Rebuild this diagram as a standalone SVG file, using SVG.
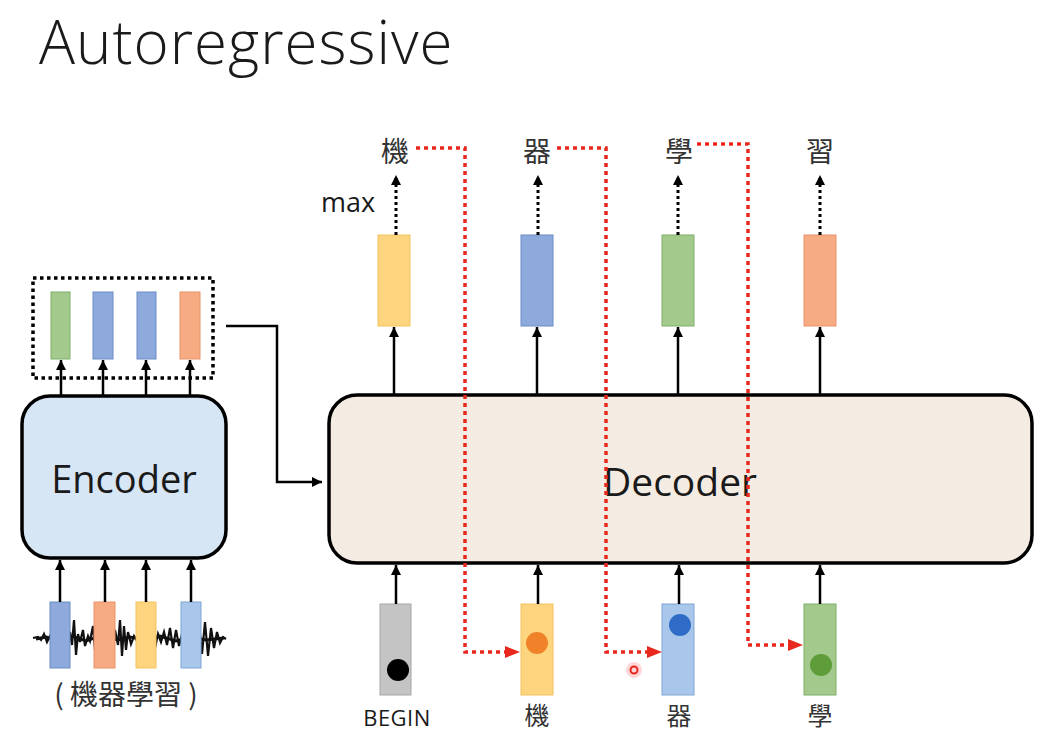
<svg xmlns="http://www.w3.org/2000/svg" width="1063" height="733" viewBox="0 0 1063 733">
<style>
.en{font-family:"Open Sans","Noto Sans",sans-serif;fill:#1a1a1a}
.zh{font-family:"Noto Sans CJK TC",sans-serif;fill:#333}
.ar{stroke:#000;stroke-width:2.5;fill:none;marker-end:url(#ah)}
.dt{stroke:#000;stroke-width:3;stroke-dasharray:3 3;fill:none;marker-end:url(#ah)}
.rd{stroke:#e8281e;stroke-width:3.5;stroke-dasharray:4 4;fill:none}
.g{fill:#a3c98c;stroke:#7fae66;stroke-width:1}
.b{fill:#8eaadc;stroke:#6b8cc6;stroke-width:1}
.o{fill:#f7ab82;stroke:#e8916a;stroke-width:1}
.y{fill:#fdd57e;stroke:#f2c35e;stroke-width:1}
.gr{fill:#c4c4c4;stroke:#a6a6a6;stroke-width:1}
.lb{fill:#a9c7ea;stroke:#7fa5d6;stroke-width:1}
</style>
<defs>
<marker id="ah" markerUnits="userSpaceOnUse" markerWidth="12" markerHeight="12" refX="10" refY="5" orient="auto"><path d="M0,0 L10,5 L0,10 Z" fill="#000"/></marker>
</defs>
<rect width="1063" height="733" fill="#fff"/>
<text class="en" x="39" y="64" font-size="60" font-weight="300" letter-spacing="1">Autoregressive</text>

<g id="waveform">
<path d="M33,638 L38,637 L41,640 L44,634 L47,642 L50,636 L53,641 L56,630 L58,646 L60,625 L62,650 L64,628 L66,648 L70,632 L72,645 L74,620 L76,655 L78,634 L80,642 L83,630 L85,646 L88,636 L90,641 L93,626 L95,650 L98,630 L100,646 L103,628 L106,648 L109,624 L112,652 L115,630 L118,645 L120,620 L122,656 L124,626 L126,650 L128,632 L131,644 L134,636 L137,641 L140,630 L143,646 L146,634 L149,642 L152,628 L155,648 L158,634 L161,642 L164,632 L167,645 L170,628 L173,648 L176,630 L179,646 L182,634 L185,642 L188,630 L190,646 L193,634 L196,642 L199,624 L202,654 L205,622 L208,656 L211,628 L214,648 L217,632 L220,643 L223,637 L226,639" fill="none" stroke="#111" stroke-width="2.2"/>
<path d="M36,639 L46,637 L58,640 L72,636 L86,641 L100,636 L118,640 L130,637 L146,640 L160,636 L176,641 L192,637 L206,640 L224,638" fill="none" stroke="#111" stroke-width="3"/>
</g>

<g id="input-vectors">
<rect class="b" x="50" y="602" width="20" height="66"/>
<rect class="o" x="94" y="602" width="21" height="66"/>
<rect class="y" x="136" y="602" width="20" height="66"/>
<rect class="lb" x="181" y="602" width="20" height="66"/>
</g>
<text class="zh" x="126" y="705" font-size="28" text-anchor="middle">( 機器學習 )</text>

<g id="encoder">
<rect x="22" y="396" width="204" height="162" rx="28" fill="#d7e6f4" stroke="#000" stroke-width="3.5"/>
<text class="en" x="124" y="493" font-size="38" text-anchor="middle">Encoder</text>
</g>

<g id="encoder-output">
<rect x="33" y="278" width="180" height="100" fill="none" stroke="#000" stroke-width="3.5" stroke-dasharray="3.5 3.5"/>
<rect class="g" x="51" y="292" width="19" height="67"/>
<rect class="b" x="93" y="292" width="20" height="67"/>
<rect class="b" x="137" y="292" width="19" height="67"/>
<rect class="o" x="180" y="292" width="20" height="67"/>
</g>

<g id="decoder">
<rect x="329" y="395" width="703" height="168" rx="28" fill="#f4ece2" stroke="#000" stroke-width="3.5"/>
<text class="en" x="680" y="496" font-size="39" text-anchor="middle">Decoder</text>
</g>

<g id="decoder-output">
<rect class="y" x="378" y="235" width="32" height="91"/>
<rect class="b" x="521" y="235" width="32" height="91"/>
<rect class="g" x="662" y="235" width="32" height="91"/>
<rect class="o" x="804" y="235" width="32" height="91"/>
<text class="zh" x="395" y="162" font-size="28" text-anchor="middle">機</text>
<text class="zh" x="537" y="162" font-size="28" text-anchor="middle">器</text>
<text class="zh" x="679" y="162" font-size="28" text-anchor="middle">學</text>
<text class="zh" x="820" y="162" font-size="28" text-anchor="middle">習</text>
<text class="en" x="348" y="212" font-size="27" text-anchor="middle">max</text>
</g>

<g id="decoder-input">
<rect class="gr" x="380" y="604" width="31" height="91"/>
<circle cx="398" cy="670" r="11" fill="#000"/>
<rect class="y" x="521" y="604" width="32" height="91"/>
<circle cx="537" cy="643" r="11" fill="#f0822a"/>
<rect class="lb" x="662" y="604" width="32" height="91"/>
<circle cx="680" cy="625" r="11" fill="#2f6cc8"/>
<rect class="g" x="804" y="604" width="32" height="91"/>
<circle cx="821" cy="665" r="11" fill="#5f9c3a"/>
<text class="en" x="397" y="726" font-size="22" letter-spacing="0.5" text-anchor="middle">BEGIN</text>
<text class="zh" x="537" y="725" font-size="25" text-anchor="middle">機</text>
<text class="zh" x="679" y="725" font-size="25" text-anchor="middle">器</text>
<text class="zh" x="820" y="725" font-size="25" text-anchor="middle">學</text>
</g>

<g id="laser">
<circle cx="634" cy="670" r="8" fill="#ff6060" opacity="0.25"/>
<circle cx="634" cy="670" r="3.5" fill="none" stroke="#e8281e" stroke-width="2"/>
</g>

<g id="connectors">
<path class="ar" d="M61,396 V360"/>
<path class="ar" d="M103,396 V360"/>
<path class="ar" d="M146,396 V360"/>
<path class="ar" d="M190,396 V360"/>
<path class="ar" d="M60,602 V560"/>
<path class="ar" d="M105,602 V560"/>
<path class="ar" d="M146,602 V560"/>
<path class="ar" d="M191,602 V560"/>
<path class="ar" d="M226,326 H277 V482 H322"/>
<path class="ar" d="M394,395 V327"/>
<path class="ar" d="M537,395 V327"/>
<path class="ar" d="M678,395 V327"/>
<path class="ar" d="M820,395 V327"/>
<path class="ar" d="M396,604 V565"/>
<path class="ar" d="M538,604 V565"/>
<path class="ar" d="M679,604 V565"/>
<path class="ar" d="M820,604 V565"/>
<path class="dt" d="M396,235 V175"/>
<path class="dt" d="M538,235 V175"/>
<path class="dt" d="M678,235 V175"/>
<path class="dt" d="M820,235 V175"/>
<path class="rd" d="M416,148 H465 V652 H508"/>
<path class="rd" d="M557,148 H606 V652 H650"/>
<path class="rd" d="M697,144 H748 V645 H790"/>
<path d="M505,646 L520,652 L505,658 Z" fill="#e8281e"/>
<path d="M647,646 L662,652 L647,658 Z" fill="#e8281e"/>
<path d="M788,639 L803,645 L788,651 Z" fill="#e8281e"/>
</g>
</svg>
